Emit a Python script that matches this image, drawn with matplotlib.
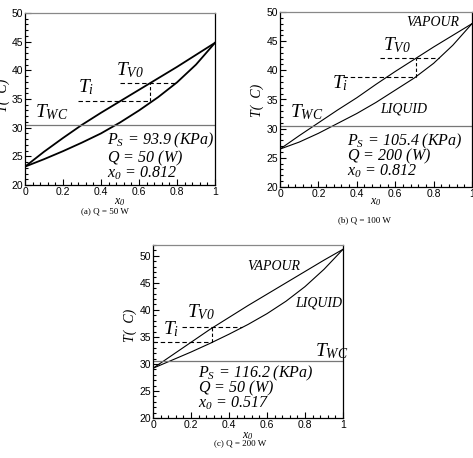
import matplotlib
matplotlib.use("Agg")
import matplotlib.pyplot as plt
from matplotlib.ticker import MultipleLocator, FuncFormatter

plt.rcParams['mathtext.fontset'] = 'custom'
plt.rcParams['mathtext.it'] = 'Liberation Serif:italic'
plt.rcParams['mathtext.rm'] = 'Liberation Serif:italic'
plt.rcParams['mathtext.default'] = 'it'

# ---------------- data ----------------
x_grid = [0, 0.1, 0.2, 0.3, 0.4, 0.5, 0.6, 0.7, 0.8, 0.9, 1.0]

vap_a = [23.2, 25.8, 28.2, 30.5, 32.6, 34.6, 36.6, 38.6, 40.6, 42.7, 44.8]
liq_a = [23.2, 24.5, 25.9, 27.4, 29.0, 30.9, 33.0, 35.3, 37.9, 41.0, 44.8]
twc_a, ti_a, tv0_a, x0_a = 30.5, 34.6, 37.8, 0.66
ti_span_a, tv_span_a = (0.28, 0.66), (0.50, 0.80)

vap_b = [26.5, 28.8, 31.0, 33.2, 35.3, 37.6, 39.8, 41.9, 44.0, 46.0, 48.0]
liq_b = [26.5, 27.7, 29.2, 30.9, 32.6, 34.5, 36.6, 38.7, 41.2, 44.3, 48.0]
twc_b, ti_b, tv0_b, x0_b = 30.5, 38.9, 42.1, 0.71
ti_span_b, tv_span_b = (0.33, 0.71), (0.52, 0.83)

vap_c = [29.2, 31.6, 34.0, 36.4, 38.6, 40.8, 42.9, 45.0, 47.1, 49.2, 51.2]
liq_c = [29.2, 30.7, 32.2, 33.8, 35.5, 37.3, 39.3, 41.6, 44.3, 47.5, 51.2]
twc_c, ti_c, tv0_c, x0_c = 30.5, 34.0, 36.8, 0.31
ti_span_c, tv_span_c = (0.0, 0.31), (0.15, 0.47)

info_a = [r"$P_S\,=\,93.9\ (KPa)$", r"$Q\,=\,50\ (W)$", r"$x_0\,=\,0.812$"]
info_b = [r"$P_S\,=\,105.4\ (KPa)$", r"$Q\,=\,200\ (W)$", r"$x_0\,=\,0.812$"]
info_c = [r"$P_S\,=\,116.2\ (KPa)$", r"$Q\,=\,50\ (W)$", r"$x_0\,=\,0.517$"]

captions = ["(a) Q = 50 W", "(b) Q = 100 W", "(c) Q = 200 W"]

W, H = 473, 458
fig = plt.figure(figsize=(W / 100, H / 100), dpi=100)


def px_axes(l, t, r, b):
    return fig.add_axes([l / W, 1 - b / H, (r - l) / W, (b - t) / H])


serif_it = dict(family='Liberation Serif', style='italic')


def panel(ax, vap, liq, twc, ti, tv0, x0, ti_span, tv_span, ymax, lw,
          info, info_pos, tv_pos, ti_pos, twc_pos, vap_pos=None, liq_pos=None):
    ax.set_xlim(0, 1)
    ax.set_ylim(20, ymax)
    ax.plot(x_grid, vap, color='black', lw=lw)
    ax.plot(x_grid, liq, color='black', lw=lw)
    ax.axhline(twc, color='#777777', lw=0.9)
    ax.plot(ti_span, [ti, ti], color='black', lw=0.8, ls=(0, (4, 2.5)))
    ax.plot(tv_span, [tv0, tv0], color='black', lw=0.8, ls=(0, (4, 2.5)))
    ax.plot([x0, x0], [ti, tv0], color='black', lw=0.8, ls=(0, (3, 2)))
    ax.xaxis.set_major_locator(MultipleLocator(0.2))
    ax.xaxis.set_minor_locator(MultipleLocator(0.04))
    ax.yaxis.set_major_locator(MultipleLocator(5))
    ax.yaxis.set_minor_locator(MultipleLocator(1))
    ax.xaxis.set_major_formatter(FuncFormatter(lambda v, p: '%g' % round(v, 2)))
    ax.tick_params(which='both', direction='in', top=False, right=False,
                   labelsize=7.5, pad=1.5, width=0.8)
    ax.tick_params(which='major', length=4)
    ax.tick_params(which='minor', length=2)
    for lab in ax.get_xticklabels() + ax.get_yticklabels():
        lab.set_family('Liberation Sans')
    ax.spines['top'].set_color('#888888')
    ax.spines['right'].set_color('black')
    for s in ax.spines.values():
        s.set_linewidth(0.9)
    for txt, (x, y) in zip(info, info_pos):
        ax.text(x, y, txt, fontsize=11.5, va='baseline', ha='left')
    ax.text(tv_pos[0], tv_pos[1], r"$T_{V0}$", fontsize=14, va='baseline')
    ax.text(ti_pos[0], ti_pos[1], r"$T_i$", fontsize=14, va='baseline')
    ax.text(twc_pos[0], twc_pos[1], r"$T_{WC}$", fontsize=14, va='baseline')
    if vap_pos:
        ax.text(vap_pos[0], vap_pos[1], "VAPOUR", fontsize=10, va='baseline', **serif_it)
    if liq_pos:
        ax.text(liq_pos[0], liq_pos[1], "LIQUID", fontsize=10, va='baseline', **serif_it)


ax_a = px_axes(25, 13, 215, 185)
panel(ax_a, vap_a, liq_a, twc_a, ti_a, tv0_a, x0_a, ti_span_a, tv_span_a, 50, 1.3,
      info_a, [(0.43, 27.0), (0.43, 23.9), (0.43, 21.3)],
      (0.48, 39.2), (0.28, 36.1), (0.05, 31.8))

ax_b = px_axes(280, 12, 472, 187)
panel(ax_b, vap_b, liq_b, twc_b, ti_b, tv0_b, x0_b, ti_span_b, tv_span_b, 50, 0.8,
      info_b, [(0.35, 27.2), (0.35, 24.5), (0.35, 22.0)],
      (0.536, 43.5), (0.27, 37.0), (0.05, 32.0), (0.66, 47.6), (0.52, 32.7))

ax_c = px_axes(153, 245, 343, 418)
panel(ax_c, vap_c, liq_c, twc_c, ti_c, tv0_c, x0_c, ti_span_c, tv_span_c, 52, 0.8,
      info_c, [(0.237, 27.6), (0.237, 24.8), (0.237, 22.0)],
      (0.18, 38.7), (0.05, 35.4), (0.85, 31.5), (0.495, 47.4), (0.75, 40.7))

# axis labels and captions (figure pixel positions)
def ftext(x, y, s, **kw):
    fig.text(x / W, 1 - y / H, s, **kw)

for cx, cy in [(120, 201), (376, 201), (248, 435)]:
    ftext(cx, cy, r"$x_0$", fontsize=8.5, ha='center', va='center')
for (cx, cy), cap in zip([(105, 211), (364, 220), (240, 443)], captions):
    ftext(cx, cy, cap, fontsize=6.5, ha='center', va='center', family='Liberation Serif')
for cx, cy in [(3, 95), (257, 100), (130, 325)]:
    ftext(cx, cy, "T(  C)", fontsize=10, ha='center', va='center', rotation=90, **serif_it)

fig.savefig("out.png", dpi=100)
